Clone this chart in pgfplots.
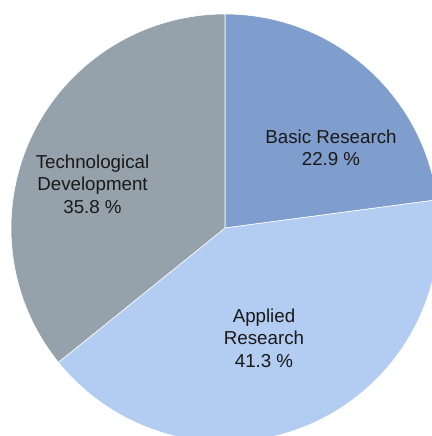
\documentclass[border=0pt]{standalone}
\usepackage{fontspec}
\setmainfont{Liberation Sans}
\usepackage{pgfplots}
\pgfplotsset{compat=1.18}

\definecolor{basic}{RGB}{127,158,205}
\definecolor{applied}{RGB}{179,204,242}
\definecolor{tech}{RGB}{149,161,171}

\begin{document}
\begin{tikzpicture}
\begin{axis}[
    width=432bp, height=436bp,
    scale only axis,
    xmin=0, xmax=432, ymin=0, ymax=436,
    hide axis,
    clip=true,
]
% share in percent / colour, clockwise from the top
\foreach \v/\c [remember=\e as \s (initially 90)] in {22.9/basic, 41.3/applied, 35.8/tech} {
    \pgfmathsetmacro\e{\s-3.6*\v}
    \edef\temp{\noexpand\fill[\c, draw=white, line width=0.6bp]
        (axis cs:225,208) -- ++(\s:214bp)
        arc[start angle=\s, end angle=\e, radius=214bp] -- cycle;}
    \temp
}
\tikzset{lbl/.style={align=center, font=\fontsize{18.8}{22.5}\selectfont, text=black!90}}
\node[lbl] at (axis cs:331,288) {Basic Research\\22.9 \%};
\node[lbl] at (axis cs:264,98) {Applied\\Research\\41.3 \%};
\node[lbl] at (axis cs:92.5,252) {Technological\\Development\\35.8 \%};
\end{axis}
\pgfresetboundingbox
\path (current axis.south west) rectangle (current axis.north east);
\end{tikzpicture}
\end{document}
